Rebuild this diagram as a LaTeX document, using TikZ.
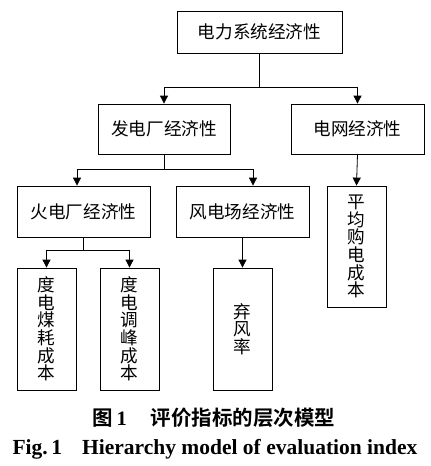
\documentclass[tikz,border=0pt]{standalone}
\usepackage{fontspec}
\setmainfont{Liberation Serif}
\newfontfamily\cjk[BoldFont={Noto Sans CJK SC Bold}]{Noto Sans CJK SC}
\usetikzlibrary{arrows.meta}
\begin{document}
\begin{tikzpicture}[x=1pt,y=-1pt,
  box/.style={draw, line width=0.8pt, inner sep=0pt, align=center,
    font=\cjk\fontsize{17.6}{17.6}\selectfont},
  hbox/.style={box, minimum width=133pt, minimum height=50pt},
  vbox/.style={box, minimum width=59pt, minimum height=122pt, text width=18pt},
  conn/.style={line width=0.8pt},
  arr/.style={conn, -{Triangle[length=8pt,width=8pt]}}]
\useasboundingbox (0,0) rectangle (431,466);
\node[box, minimum width=165pt, minimum height=42pt] (top) at (259.5,32) {电力系统经济性};
\node[hbox, minimum width=132pt] (fd) at (164,129) {发电厂经济性};
\node[hbox] (dw) at (357.5,129) {电网经济性};
\node[hbox, minimum height=51pt] (hd) at (83.5,211.5) {火电厂经济性};
\node[hbox, minimum height=51pt] (fdc) at (242.5,211.5) {风电场经济性};
\node[vbox, minimum height=121pt] (pj) at (356.5,246.5) {平\\均\\购\\电\\成\\本};
\node[vbox] (dm) at (46.5,329) {度\\电\\煤\\耗\\成\\本};
\node[vbox] (dt) at (129.5,329) {度\\电\\调\\峰\\成\\本};
\node[vbox] (qf) at (242.5,329) {弃\\风\\率};
\coordinate (j1) at (259.5,87);
\coordinate (j2) at (164,169);
\coordinate (j3) at (83.5,250);
\draw[conn] (top.south) -- (j1);
\draw[arr] (j1) -| (fd.north);
\draw[arr] (j1) -| (dw.north);
\draw[conn] (fd.south) -- (j2);
\draw[arr] (j2) -| ([xshift=-6.5pt]hd.north);
\draw[arr] (j2) -| ([xshift=10.5pt]fdc.north);
\draw[conn] (hd.south) -- (j3);
\draw[arr] (j3) -| (dm.north);
\draw[arr] (j3) -| (dt.north);
\draw[arr] (fdc.south) -- (qf.north);
\draw[arr] (dw.south) -- (pj.north);
\node[font=\cjk\bfseries\fontsize{20.5}{22}\selectfont] (cap1) at (214,418) {图\,\textbf{\fontspec{Liberation Serif}1}\hspace{24pt}评价指标的层次模型};
\node[font=\bfseries\fontsize{21.5}{23}\selectfont] (cap2) at (215,449) {Fig.\,1\hspace{20pt}Hierarchy model of evaluation index};
\end{tikzpicture}
\end{document}
